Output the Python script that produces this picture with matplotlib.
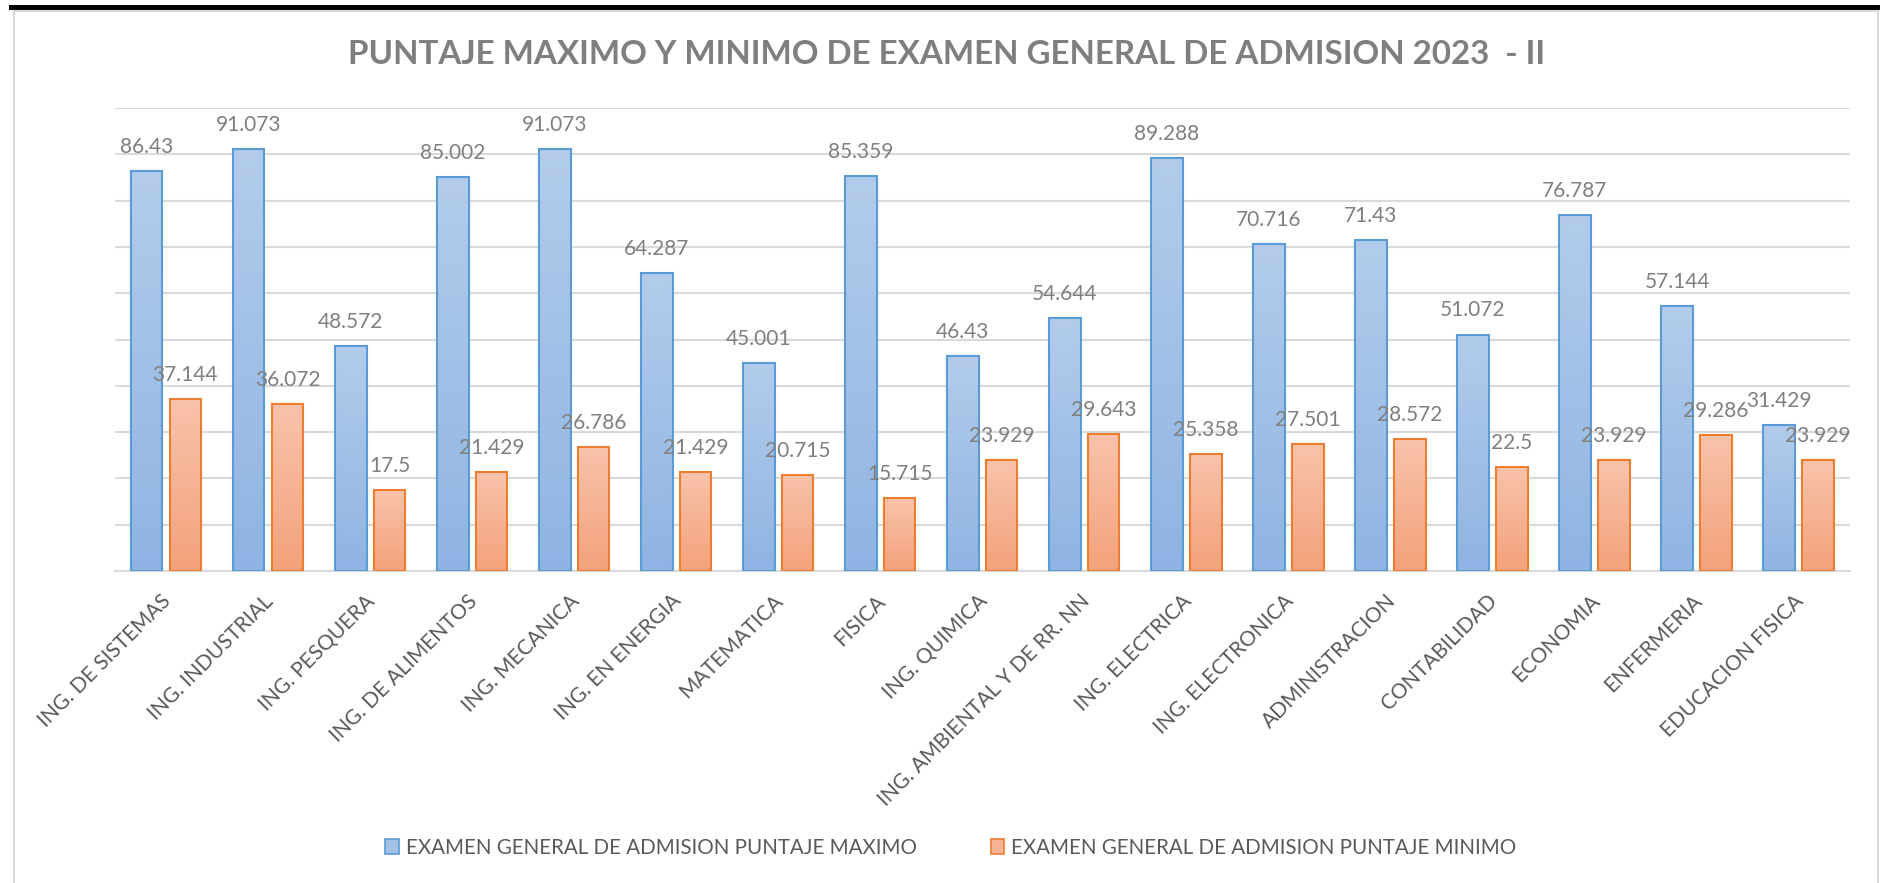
import matplotlib.pyplot as plt
import matplotlib.transforms as mtransforms
from matplotlib.patches import Rectangle, Patch
from matplotlib.colors import LinearSegmentedColormap
import numpy as np

carreras = ["ING. DE SISTEMAS", "ING. INDUSTRIAL", "ING. PESQUERA", "ING. DE ALIMENTOS",
            "ING. MECANICA", "ING. EN ENERGIA", "MATEMATICA", "FISICA", "ING. QUIMICA",
            "ING. AMBIENTAL Y DE RR. NN", "ING. ELECTRICA", "ING. ELECTRONICA",
            "ADMINISTRACION", "CONTABILIDAD", "ECONOMIA", "ENFERMERIA", "EDUCACION FISICA"]
puntaje_max = [86.43, 91.073, 48.572, 85.002, 91.073, 64.287, 45.001, 85.359, 46.43,
               54.644, 89.288, 70.716, 71.43, 51.072, 76.787, 57.144, 31.429]
puntaje_min = [37.144, 36.072, 17.5, 21.429, 26.786, 21.429, 20.715, 15.715, 23.929,
               29.643, 25.358, 27.501, 28.572, 22.5, 23.929, 29.286, 23.929]

titulo = "PUNTAJE MAXIMO Y MINIMO DE EXAMEN GENERAL DE ADMISION 2023  - II"
serie_max = "EXAMEN GENERAL DE ADMISION PUNTAJE MAXIMO"
serie_min = "EXAMEN GENERAL DE ADMISION PUNTAJE MINIMO"

plt.rcParams['font.family'] = ['Lato', 'DejaVu Sans']

W, H = 1880, 883
fig = plt.figure(figsize=(W / 100, H / 100), dpi=100)
ax = fig.add_axes([115 / W, 1 - 571 / H, (1849.5 - 115) / W, (571 - 108) / H])

azul = LinearSegmentedColormap.from_list("azul", ["#8FB4E3", "#B3CCEB"])
naranja = LinearSegmentedColormap.from_list("naranja", ["#F4A27B", "#F8C3AB"])
grad = np.linspace(0, 1, 256).reshape(-1, 1)

x = np.arange(len(carreras))
ancho = 0.31
desp = 0.19
gris_txt = "#7F7F7F"

for series, off, cmap, borde in [(puntaje_max, -desp, azul, "#5B9BD5"),
                                 (puntaje_min, desp, naranja, "#ED7D31")]:
    for xi, v in zip(x, series):
        x0 = xi + off - ancho / 2
        ax.imshow(grad, cmap=cmap, origin="lower", aspect="auto",
                  extent=[x0, x0 + ancho, 0, v], zorder=2, interpolation="bilinear")
        ax.add_patch(Rectangle((x0, 0), ancho, v, facecolor="none",
                               edgecolor=borde, linewidth=1.5, zorder=3))
        ax.annotate(f"{v:g}", (xi + off, v), xytext=(0, 13), textcoords="offset points",
                    ha="center", va="baseline", fontsize=15, color=gris_txt, zorder=4)

ax.set_xlim(-0.5, len(carreras) - 0.5)
ax.set_ylim(0, 100)
ax.set_yticks(np.arange(0, 101, 10))
ax.yaxis.grid(True, color="#D9D9D9", linewidth=1.5, zorder=0)
ax.set_axisbelow(True)
ax.tick_params(left=False, labelleft=False, bottom=False, labelbottom=False)
for s in ["top", "right", "left"]:
    ax.spines[s].set_visible(False)
ax.spines["bottom"].set_color("#D9D9D9")
ax.spines["bottom"].set_linewidth(1.5)

trans = mtransforms.offset_copy(ax.get_xaxis_transform(), fig=fig, x=2, y=-27, units="dots")
for xi, nombre in zip(x, carreras):
    ax.text(xi, 0, nombre, transform=trans, rotation=45, rotation_mode="anchor",
            ha="right", va="center", fontsize=15, color="#595959")

fig.text(947 / W, 1 - 55 / H, titulo, ha="center", va="center", fontsize=23.9,
         fontweight="bold", color="#7F7F7F")

handles = [Patch(facecolor="#A3C1E7", edgecolor="#5B9BD5", linewidth=1.2),
           Patch(facecolor="#F6B494", edgecolor="#ED7D31", linewidth=1.2)]
fig.legend(handles, [serie_max, serie_min], loc="center", ncol=2,
           bbox_to_anchor=(951 / W, 1 - 848 / H), frameon=False, fontsize=14.8,
           labelcolor="#595959", handlelength=0.65, handleheight=0.75,
           handletextpad=0.35, columnspacing=3.6)

# marco del grafico
fig.patches.append(Rectangle((9 / W, 1 - 9.5 / H), 1, 4.5 / H, transform=fig.transFigure,
                             facecolor="black", edgecolor="none", zorder=5))
fig.patches.append(Rectangle((13.5 / W, -0.05), (1878 - 13.5) / W, 1.05 - 10.5 / H,
                             transform=fig.transFigure, facecolor="none",
                             edgecolor="#D9D9D9", linewidth=1.5, zorder=5))

fig.savefig("out.png", dpi=100, facecolor="white")
